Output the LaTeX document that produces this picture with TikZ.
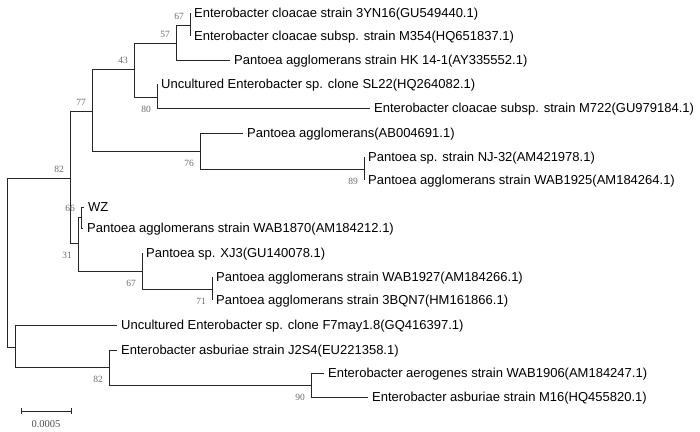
\documentclass[tikz,border=0pt]{standalone}
\usepackage{fontspec}
\setmainfont{Liberation Sans}
\newfontfamily\bootfont{Liberation Serif}
\begin{document}
\begin{tikzpicture}[x=1pt,y=-1pt,
    branch/.style={draw=black!85,line width=0.8pt},
    taxon/.style={anchor=base west,inner sep=0pt,xshift=4pt,yshift=-4pt,font=\fontsize{13}{13}\selectfont},
    bootup/.style={anchor=base east,inner sep=0pt,xshift=-6pt,yshift=5.5pt,text=black!58,font=\bootfont\fontsize{9.5}{9.5}\selectfont},
    bootdown/.style={anchor=base east,inner sep=0pt,xshift=-6pt,yshift=-15.5pt,text=black!58,font=\bootfont\fontsize{9.5}{9.5}\selectfont}]
  \useasboundingbox (0,0) rectangle (700,431);

  \coordinate (R) at (7,262);
  \coordinate (A82) at (70,178);
  \coordinate (A77) at (92,111);
  \coordinate (A43) at (134,69);
  \coordinate (A57) at (176,43);
  \coordinate (A67) at (190,25);
  \coordinate (A80) at (157,97);
  \coordinate (A76) at (200,151);
  \coordinate (A89) at (364,169);
  \coordinate (A31) at (78,243);
  \coordinate (A66) at (81,217);
  \coordinate (B67) at (142,271);
  \coordinate (B71) at (212,289);
  \coordinate (B) at (15,347);
  \coordinate (B82) at (109,367);
  \coordinate (B90) at (311,385);

  \coordinate (L1) at (190,13);
  \coordinate (L2) at (190,36);
  \coordinate (L3) at (230,60);
  \coordinate (L4) at (157,84);
  \coordinate (L5) at (370,108);
  \coordinate (L6) at (243,133);
  \coordinate (L7) at (364,157);
  \coordinate (L8) at (364,180);
  \coordinate (L9) at (84,207);
  \coordinate (L10) at (83,228);
  \coordinate (L11) at (142,253);
  \coordinate (L12) at (212,277);
  \coordinate (L13) at (212,300);
  \coordinate (L14) at (117,325);
  \coordinate (L15) at (117,350);
  \coordinate (L16) at (324,373);
  \coordinate (L17) at (368,397);

  \foreach \p/\c in {R/A82,R/B,A82/A77,A82/A31,A77/A43,A77/A76,A43/A57,A43/A80,
      A57/A67,A57/L3,A67/L1,A67/L2,A80/L4,A80/L5,A76/L6,A76/A89,A89/L7,A89/L8,
      A31/A66,A31/B67,A66/L9,A66/L10,B67/L11,B67/B71,B71/L12,B71/L13,
      B/L14,B/B82,B82/L15,B82/B90,B90/L16,B90/L17}
    \draw[branch] (\p) |- (\c);

  \path (L1) node[taxon] (T1) {Enterobacter cloacae strain 3YN16(GU549440.1)};
  \path (L2) node[taxon] (T2) {Enterobacter cloacae subsp. strain M354(HQ651837.1)};
  \path (L3) node[taxon] (T3) {Pantoea agglomerans strain HK 14-1(AY335552.1)};
  \path (L4) node[taxon] (T4) {Uncultured Enterobacter sp. clone SL22(HQ264082.1)};
  \path (L5) node[taxon] (T5) {Enterobacter cloacae subsp. strain M722(GU979184.1)};
  \path (L6) node[taxon] (T6) {Pantoea agglomerans(AB004691.1)};
  \path (L7) node[taxon] (T7) {Pantoea sp. strain NJ-32(AM421978.1)};
  \path (L8) node[taxon] (T8) {Pantoea agglomerans strain WAB1925(AM184264.1)};
  \path (L9) node[taxon] (T9) {WZ};
  \path (L10) node[taxon] (T10) {Pantoea agglomerans strain WAB1870(AM184212.1)};
  \path (L11) node[taxon] (T11) {Pantoea sp. XJ3(GU140078.1)};
  \path (L12) node[taxon] (T12) {Pantoea agglomerans strain WAB1927(AM184266.1)};
  \path (L13) node[taxon] (T13) {Pantoea agglomerans strain 3BQN7(HM161866.1)};
  \path (L14) node[taxon] (T14) {Uncultured Enterobacter sp. clone F7may1.8(GQ416397.1)};
  \path (L15) node[taxon] (T15) {Enterobacter asburiae strain J2S4(EU221358.1)};
  \path (L16) node[taxon] (T16) {Enterobacter aerogenes strain WAB1906(AM184247.1)};
  \path (L17) node[taxon] (T17) {Enterobacter asburiae strain M16(HQ455820.1)};

  \path (A67) node[bootup] {67};
  \path (A57) node[bootup] {57};
  \path (A43) node[bootup] {43};
  \path (A77) node[bootup] {77};
  \path (A82) node[bootup] {82};
  \path (A66) node[bootup] {66};
  \path (A80) node[bootdown] {80};
  \path (A76) node[bootdown] {76};
  \path (A89) node[bootdown] {89};
  \path (A31) node[bootdown] {31};
  \path (B67) node[bootdown] {67};
  \path (B71) node[bootdown] {71};
  \path (B82) node[bootdown] {82};
  \path (B90) node[bootdown] {90};

  \coordinate (S1) at (21,411);
  \coordinate (S2) at (71,411);
  \draw[branch] (S1) -- (S2);
  \draw[branch] ([yshift=3pt]S1) -- ([yshift=-3pt]S1);
  \draw[branch] ([yshift=3pt]S2) -- ([yshift=-3pt]S2);
  \path (S1) -- (S2) node[midway,yshift=-13pt,inner sep=0pt,text=black!70,font=\bootfont\fontsize{10.5}{10.5}\selectfont] (SL) {0.0005};
\end{tikzpicture}
\end{document}
